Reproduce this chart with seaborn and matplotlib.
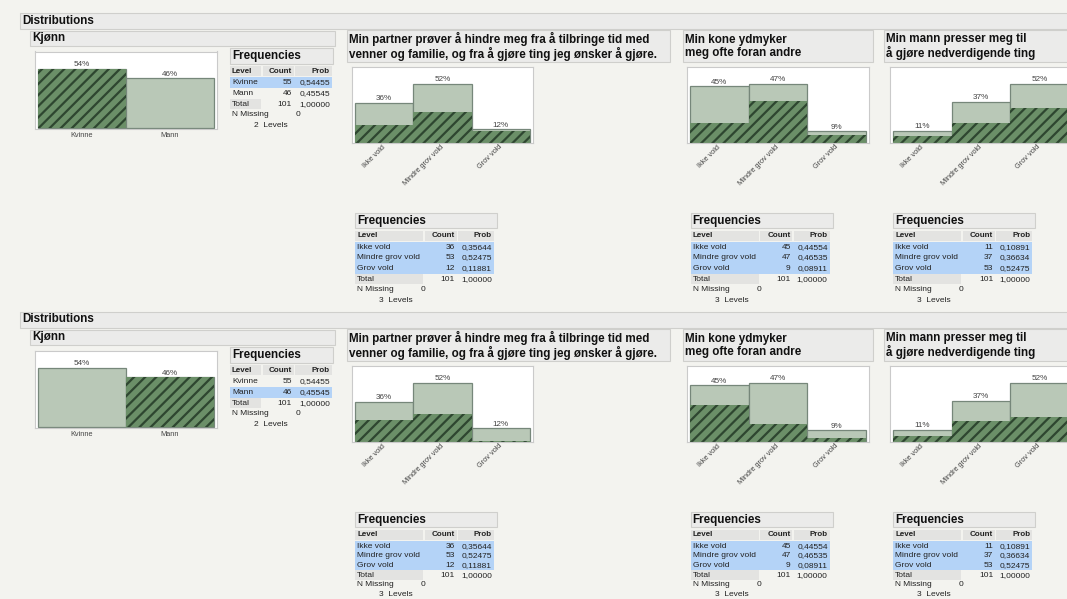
import matplotlib
matplotlib.use("Agg")
import matplotlib.pyplot as plt
import seaborn as sns
from matplotlib.patches import Rectangle

# ---------------- data ----------------
N_TOTAL = 101
kjonn_levels = ["Kvinne", "Mann"]
kjonn_counts = [55, 46]

vold_levels = ["Ikke vold", "Mindre grov vold", "Grov vold"]

partner_title = "Min partner prøver å hindre meg fra å tilbringe tid med\nvenner og familie, og fra å gjøre ting jeg ønsker å gjøre."
partner_counts = [36, 53, 12]
partner_kvinne = [16, 28, 11]
partner_mann = [20, 25, 1]

kone_title = "Min kone ydmyker\nmeg ofte foran andre"
kone_counts = [45, 47, 9]
kone_kvinne = [16, 33, 6]
kone_mann = [29, 14, 3]

mann_title = "Min mann presser meg til\nå gjøre nedverdigende ting"
mann_counts = [11, 37, 53]
mann_kvinne = [6, 18, 31]
mann_mann = [5, 19, 22]

selections = ["Kvinne", "Mann"]

# ---------------- style ----------------
W, H = 1067, 599
BG = "#f3f3ef"
HEAD = "#ebebea"
HEAD_EDGE = "#cfcfcc"
LIGHT = "#b9c8b7"
EDGE = "#76877a"
MID = "#6b8f68"
DARK = "#2e4630"
BLUE = "#b4d3f7"
GREYCELL = "#e3e3e1"
TFS = 6.0

plt.rcParams["font.family"] = ["Liberation Sans", "DejaVu Sans"]
plt.rcParams["hatch.linewidth"] = 1.6

fig = plt.figure(figsize=(W / 100, H / 100), dpi=100, facecolor=BG)
bg = fig.add_axes([0, 0, 1, 1])
bg.set_xlim(0, W)
bg.set_ylim(H, 0)
bg.axis("off")
bg.set_zorder(0)


def px_axes(x0, y0, x1, y1):
    ax = fig.add_axes([x0 / W, 1 - y1 / H, (x1 - x0) / W, (y1 - y0) / H])
    ax.set_zorder(2)
    return ax


def rect(x0, y0, x1, y1, fc, ec="none", lw=0.8):
    bg.add_patch(Rectangle((x0, y0), x1 - x0, y1 - y0, facecolor=fc,
                           edgecolor=ec, linewidth=lw, clip_on=False))


def txt(x, y, s, size=TFS, weight="normal", ha="left", color="#222", va="center", ls=1.2):
    bg.text(x, y, s, fontsize=size, fontweight=weight, ha=ha, va=va,
            color=color, linespacing=ls)


def bar_chart(box, cats, counts, sub, rotate):
    ax = px_axes(*box)
    ax.set_facecolor("white")
    pct = [100 * c / N_TOTAL for c in counts]
    spct = [100 * c / N_TOTAL for c in sub]
    sns.barplot(x=cats, y=pct, order=cats, ax=ax, width=1.0, color=LIGHT,
                edgecolor=EDGE, linewidth=0.9, saturation=1, errorbar=None)
    sns.barplot(x=cats, y=spct, order=cats, ax=ax, width=1.0, color=MID,
                edgecolor=DARK, linewidth=0, hatch="///", saturation=1,
                errorbar=None)
    n = len(cats)
    m = 0.055 if n == 3 else 0.035
    ax.set_xlim(-0.5 - m, n - 0.5 + m)
    ax.set_ylim(-0.4, max(pct) * 1.29)
    ax.set_yticks([])
    ax.set_xlabel("")
    ax.set_ylabel("")
    for s in ax.spines.values():
        s.set_color("#cacaca")
        s.set_linewidth(0.8)
    ax.tick_params(axis="x", length=0, pad=2 if rotate else 2.5,
                   labelsize=5.3, labelcolor="#444")
    if rotate:
        for lab in ax.get_xticklabels():
            lab.set_rotation(45)
            lab.set_ha("right")
            lab.set_va("center")
            lab.set_rotation_mode("anchor")
    for i, p in enumerate(pct):
        ax.text(i, p + 0.6, f"{round(p)}%", ha="center", va="bottom",
                fontsize=5.9, color="#444")
    return ax


def freq_table(x0, y0, w_head, lvl_w, cnt_r, prob_r, cats, counts, sel_rows):
    rect(x0, y0, x0 + w_head, y0 + 15.5, HEAD, HEAD_EDGE)
    txt(x0 + 2, y0 + 8, "Frequencies", 8.4, "bold", color="#111")
    ry = y0 + 23
    rect(x0, ry - 5, x0 + lvl_w, ry + 5, GREYCELL)
    rect(x0 + lvl_w + 1.5, ry - 5, cnt_r + 1.5, ry + 5, GREYCELL)
    rect(cnt_r + 3, ry - 5, prob_r + 2, ry + 5, GREYCELL)
    txt(x0 + 2, ry, "Level", TFS - 0.2, "bold")
    txt(cnt_r, ry, "Count", TFS - 0.2, "bold", ha="right")
    txt(prob_r, ry, "Prob", TFS - 0.2, "bold", ha="right")
    y = ry + 11.5
    nrows = len(cats) + 2
    step = min(10.7, (H - 4.5 - y) / nrows)
    for i, (c, k) in enumerate(zip(cats, counts)):
        yy = y + i * step
        if i in sel_rows:
            rect(x0, yy - step / 2, prob_r + 2, yy + step / 2, BLUE)
        txt(x0 + 2, yy, c)
        txt(cnt_r, yy, f"{k}", ha="right")
        txt(prob_r, yy, f"{k / N_TOTAL:.5f}".replace(".", ","), ha="right")
    yt = y + len(cats) * step
    rect(x0, yt - 5, x0 + lvl_w, yt + 5, GREYCELL)
    txt(x0 + 2, yt, "Total")
    txt(cnt_r, yt, f"{sum(counts)}", ha="right")
    txt(prob_r, yt, "1,00000", ha="right")
    yn = yt + step
    txt(x0 + 2, yn, "N Missing")
    txt(x0 + 68, yn, "0", ha="center")
    txt(x0 + 24, yn + step, f"{len(cats)}  Levels")


def section(dy, sel):
    # Distributions header
    rect(20, 12.5 + dy, W + 10, 28.5 + dy, HEAD, HEAD_EDGE)
    txt(22, 20.5 + dy, "Distributions", 8.4, "bold", color="#111")

    # Kjønn
    rect(30, 30.5 + dy, 335, 45.5 + dy, HEAD, HEAD_EDGE)
    txt(32, 38 + dy, "Kjønn", 8.4, "bold", color="#111")
    sub = [c if lvl == sel else 0 for lvl, c in zip(kjonn_levels, kjonn_counts)]
    bar_chart((35, 51.5 + dy, 217, 128.5 + dy), kjonn_levels, kjonn_counts, sub, False)
    freq_table(230, 48.3 + dy, 103, 31, 292, 330, kjonn_levels, kjonn_counts,
               [kjonn_levels.index(sel)])

    panels = [
        (partner_title, partner_counts, partner_kvinne, partner_mann, 347, 670, 351.7, 533.3, 355),
        (kone_title, kone_counts, kone_kvinne, kone_mann, 683.3, 873.3, 686.7, 869.3, 690.7),
        (mann_title, mann_counts, mann_kvinne, mann_mann, 884, W + 10, 890, 1072, 893.3),
    ]
    for title, counts, kv, mn, hx0, hx1, ax0, ax1, tx0 in panels:
        rect(hx0, 30 + dy, hx1, 61.7 + dy, HEAD, HEAD_EDGE)
        txt(hx0 + 2, 46.3 + dy, title, 8.4, "bold", color="#111", ls=1.14)
        sub = kv if sel == "Kvinne" else mn
        bar_chart((ax0, 66.7 + dy, ax1, 143.3 + dy), vold_levels, counts, sub, True)
        freq_table(tx0, 212.7 + dy, 142, 68, tx0 + 100, tx0 + 137, vold_levels,
                   counts, [0, 1, 2])


section(0, selections[0])
section(299, selections[1])

fig.savefig("out.png", dpi=100, facecolor=BG)
